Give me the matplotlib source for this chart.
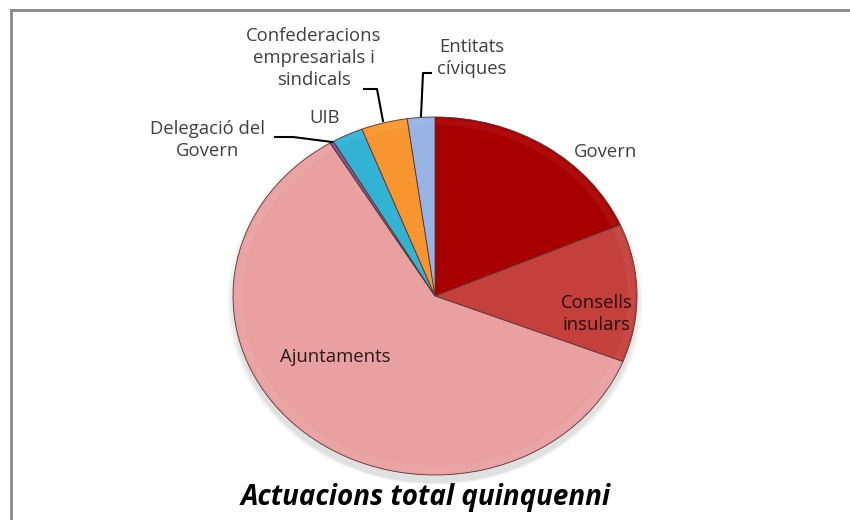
import matplotlib
matplotlib.use("Agg")
import matplotlib.pyplot as plt
from matplotlib.patches import Ellipse, Wedge
from matplotlib.lines import Line2D

# ---- data (percent share) ----
categories = ["Govern", "Consells\ninsulars", "Ajuntaments", "Delegació del\nGovern",
              "UIB", "Confederacions\nempresarials i\nsindicals", "Entitats\ncíviques"]
values = [18.5, 12.5, 60.4, 0.3, 2.5, 3.7, 2.2]
colors = ["#A80000", "#C4403C", "#E8A0A0", "#7B5C95", "#33B3D3", "#F7962F", "#98B4E4"]
title = "Actuacions total quinquenni"

W, H = 850, 520
fig = plt.figure(figsize=(W / 100, H / 100), dpi=100)
fig.patch.set_facecolor("white")

# pie geometry in pixels
cx, cy, rx, ry = 435, 296, 202, 179
ax = fig.add_axes([0, 0, 1, 1])
ax.set_axis_off()

# soft shadow below pie
for i, a in enumerate([0.04, 0.05, 0.05, 0.06]):
    ax.add_patch(Ellipse((0, -0.025 - 0.006 * i), 2.0 + 0.02 * (3 - i), 2.0 + 0.02 * (3 - i),
                         facecolor="#606060", alpha=a, edgecolor="none", zorder=0))

wedges, _ = ax.pie(values, colors=colors, startangle=90, counterclock=False,
                   radius=1.0, center=(0, 0),
                   wedgeprops=dict(edgecolor="#5a3030", linewidth=0.6))
for w in wedges:
    w.set_zorder(2)
ax.set_aspect("auto")
ax.set_xlim(-cx / rx, (W - cx) / rx)
ax.set_ylim(-(H - cy) / ry, cy / ry)

# subtle bevel highlight near the rim
theta = 90
for v in values:
    th2 = theta
    th1 = theta - v * 3.6
    theta = th1
    for k, a in enumerate([0.05, 0.05, 0.05]):
        ax.add_patch(Wedge((0, 0), 0.99 - 0.012 * k, th1 + 0.5, th2 - 0.5, width=0.012,
                           facecolor="white", alpha=a, edgecolor="none", zorder=3))

def fx(x):
    return x / W

def fy(y):
    return 1 - y / H

font = ["Open Sans", "DejaVu Sans"]
lab_color = "#404040"
fs = 13.3
ls = 1.28

# labels
fig.text(fx(606), fy(152), "Govern", ha="center", va="center", fontsize=fs,
         color=lab_color, family=font)
fig.text(fx(597), fy(314), "Consells\ninsulars", ha="center", va="center", fontsize=fs,
         color="#2a0d0d", family=font, linespacing=ls)
fig.text(fx(335), fy(357), "Ajuntaments", ha="center", va="center", fontsize=fs,
         color="#2a1818", family=font)
fig.text(fx(208), fy(140), "Delegació del\nGovern", ha="center", va="center", fontsize=fs,
         color=lab_color, family=font, linespacing=ls)
fig.text(fx(325), fy(118), "UIB", ha="center", va="center", fontsize=fs,
         color=lab_color, family=font)
fig.text(fx(314), fy(58), "Confederacions\nempresarials i\nsindicals", ha="center",
         va="center", fontsize=fs, color=lab_color, family=font, linespacing=ls)
fig.text(fx(472), fy(58), "Entitats\ncíviques", ha="center", va="center", fontsize=fs,
         color=lab_color, family=font, linespacing=ls)

# leader lines (pixel coords)
leaders = [
    [(275, 137), (293, 137), (332, 142)],
    [(364, 89), (377, 89), (383, 121)],
    [(431, 73), (423, 73), (421, 116)],
]
for pts in leaders:
    xs = [fx(p[0]) for p in pts]
    ys = [fy(p[1]) for p in pts]
    fig.add_artist(Line2D(xs, ys, color="black", linewidth=1.5, transform=fig.transFigure,
                          zorder=5))

# title
fig.text(fx(426), fy(497), title, ha="center", va="center", fontsize=20,
         fontweight="bold", fontstyle="italic", color="black", family=font)

# frame (top and left only visible)
fig.add_artist(Line2D([fx(11), fx(850)], [fy(10), fy(10)], color="#888888", linewidth=2,
                      transform=fig.transFigure))
fig.add_artist(Line2D([fx(11), fx(11)], [fy(10), fy(520)], color="#888888", linewidth=2,
                      transform=fig.transFigure))

fig.savefig("out.png", dpi=100)
